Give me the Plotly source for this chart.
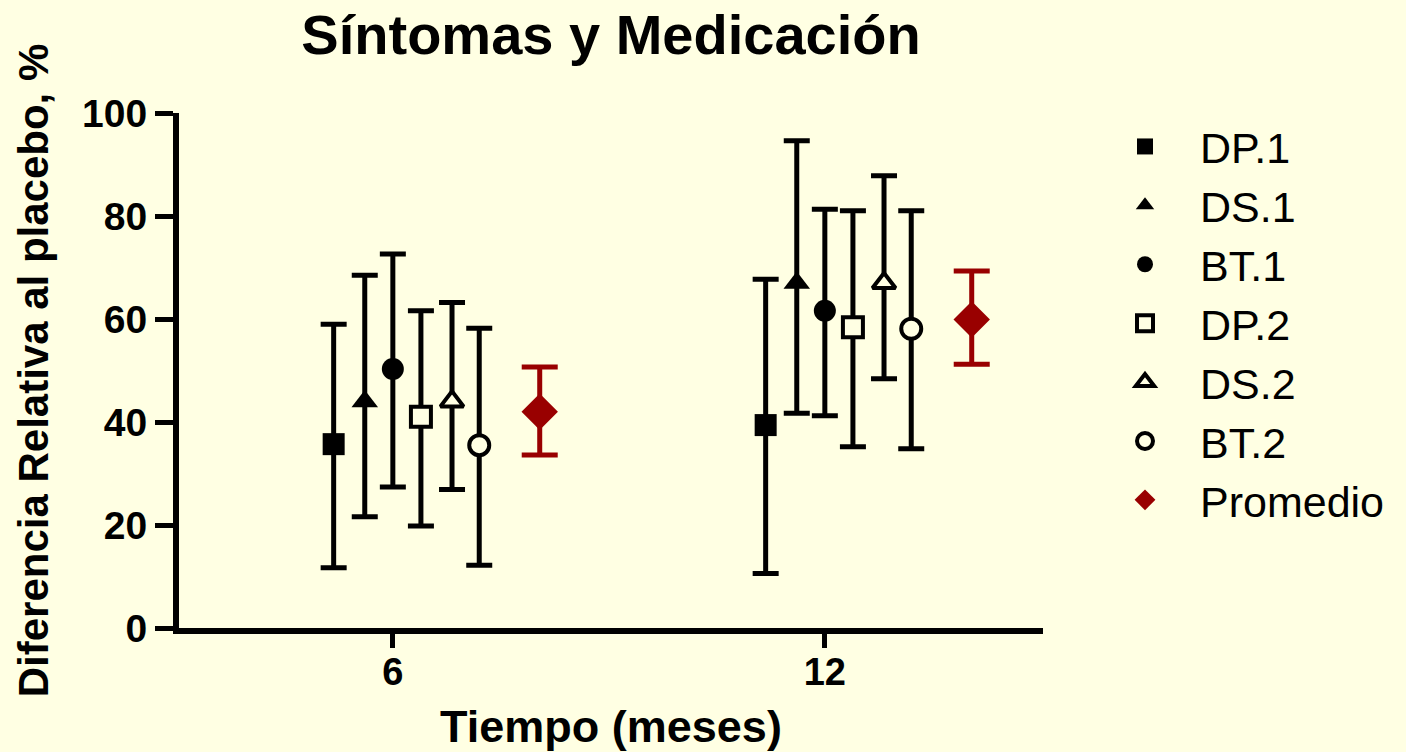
import plotly.graph_objects as go

# ---- data ----
categories = ["6", "12"]
series = ["DP.1", "DS.1", "BT.1", "DP.2", "DS.2", "BT.2", "Promedio"]
dp1 = [35.7, 39.4]
dp1_hi = [59.0, 67.7]
dp1_lo = [11.7, 10.6]
ds1 = [44.0, 67.0]
ds1_hi = [68.5, 94.6]
ds1_lo = [21.6, 41.7]
bt1 = [50.3, 61.6]
bt1_hi = [72.6, 81.3]
bt1_lo = [27.4, 41.2]
dp2 = [41.0, 58.4]
dp2_hi = [61.6, 81.0]
dp2_lo = [19.8, 35.2]
ds2 = [44.0, 67.0]
ds2_hi = [63.2, 87.8]
ds2_lo = [26.9, 48.4]
bt2 = [35.5, 58.1]
bt2_hi = [58.2, 81.0]
bt2_lo = [12.2, 34.8]
prom = [42.0, 59.9]
prom_hi = [50.7, 69.3]
prom_lo = [33.6, 51.2]

values = [dp1, ds1, bt1, dp2, ds2, bt2, prom]
uppers = [dp1_hi, ds1_hi, bt1_hi, dp2_hi, ds2_hi, bt2_hi, prom_hi]
lowers = [dp1_lo, ds1_lo, bt1_lo, dp2_lo, ds2_lo, bt2_lo, prom_lo]

# ---- styles ----
W, H = 1406, 752
BG = "#FFFFE3"
RED = "#990000"
offsets = [-0.137, -0.065, 0.0, 0.065, 0.137, 0.2, 0.34]
symbols = ["square", "triangle-up", "circle", "square", "triangle-up", "circle", "diamond"]
filled = [True, True, True, False, False, False, True]
sizes = [22, 23, 22, 20, 20, 20, 28]
colors = ["black"] * 6 + [RED]
capw = [13, 13, 13, 13, 13, 13, 18]

FONT = "Arial, Liberation Sans, sans-serif"

fig = go.Figure()
for i, name in enumerate(series):
    xs = [j + offsets[i] for j in range(len(categories))]
    ys = values[i]
    plus = [u - v for u, v in zip(uppers[i], ys)]
    minus = [v - l for v, l in zip(ys, lowers[i])]
    col = colors[i]
    fig.add_trace(go.Scatter(
        x=xs, y=ys, mode="markers", name=name,
        legendgroup=name,
        marker=dict(
            symbol=symbols[i], size=sizes[i],
            color=col if filled[i] else BG,
            line=dict(color=col, width=0 if filled[i] else 4),
        ),
        error_y=dict(type="data", symmetric=False, array=plus, arrayminus=minus,
                     color=col, thickness=5, width=capw[i]),
    ))

fig.update_layout(
    width=W, height=H,
    paper_bgcolor=BG, plot_bgcolor=BG,
    margin=dict(l=179, r=363, t=113, b=124),
    font=dict(family=FONT, color="black"),
    title=dict(text="<b>Síntomas y Medicación</b>", x=0.5, xref="paper", xanchor="center",
               y=1 - 34 / H, yref="container", yanchor="middle",
               font=dict(size=56, family=FONT, color="black")),
    showlegend=True,
    legend=dict(
        x=1090 / W, xref="container", xanchor="left",
        y=1 - 112 / H, yref="container", yanchor="top",
        font=dict(size=43, family=FONT, color="black"),
        itemwidth=100, tracegroupgap=0, bgcolor="rgba(0,0,0,0)",
        maxheight=700,
    ),
)

fig.update_xaxes(
    range=[-0.495, 1.505], tickvals=[0, 1], ticktext=["<b>" + c + "</b>" for c in categories],
    showline=True, linewidth=6, linecolor="black", mirror=False,
    ticks="outside", ticklen=14, tickwidth=5, tickcolor="black",
    showgrid=False, zeroline=False, automargin=False,
    tickfont=dict(size=38, family=FONT, color="black"),
    ticklabelstandoff=-9,
    title=dict(text="<b>Tiempo (meses)</b>", font=dict(size=45, family=FONT, color="black"), standoff=23),
)
fig.update_yaxes(
    range=[0, 100], tickvals=[0, 20, 40, 60, 80, 100],
    ticktext=["<b>0</b>", "<b>20</b>", "<b>40</b>", "<b>60</b>", "<b>80</b>", "<b>100</b>"],
    showline=True, linewidth=6, linecolor="black",
    ticks="outside", ticklen=18, tickwidth=5, tickcolor="black",
    showgrid=False, zeroline=False, automargin=False,
    tickfont=dict(size=39, family=FONT, color="black"),
    title=dict(text="<b>Diferencia Relativa al placebo, %</b>",
               font=dict(size=42, family=FONT, color="black"), standoff=22),
)

fig.write_html("out.html")
